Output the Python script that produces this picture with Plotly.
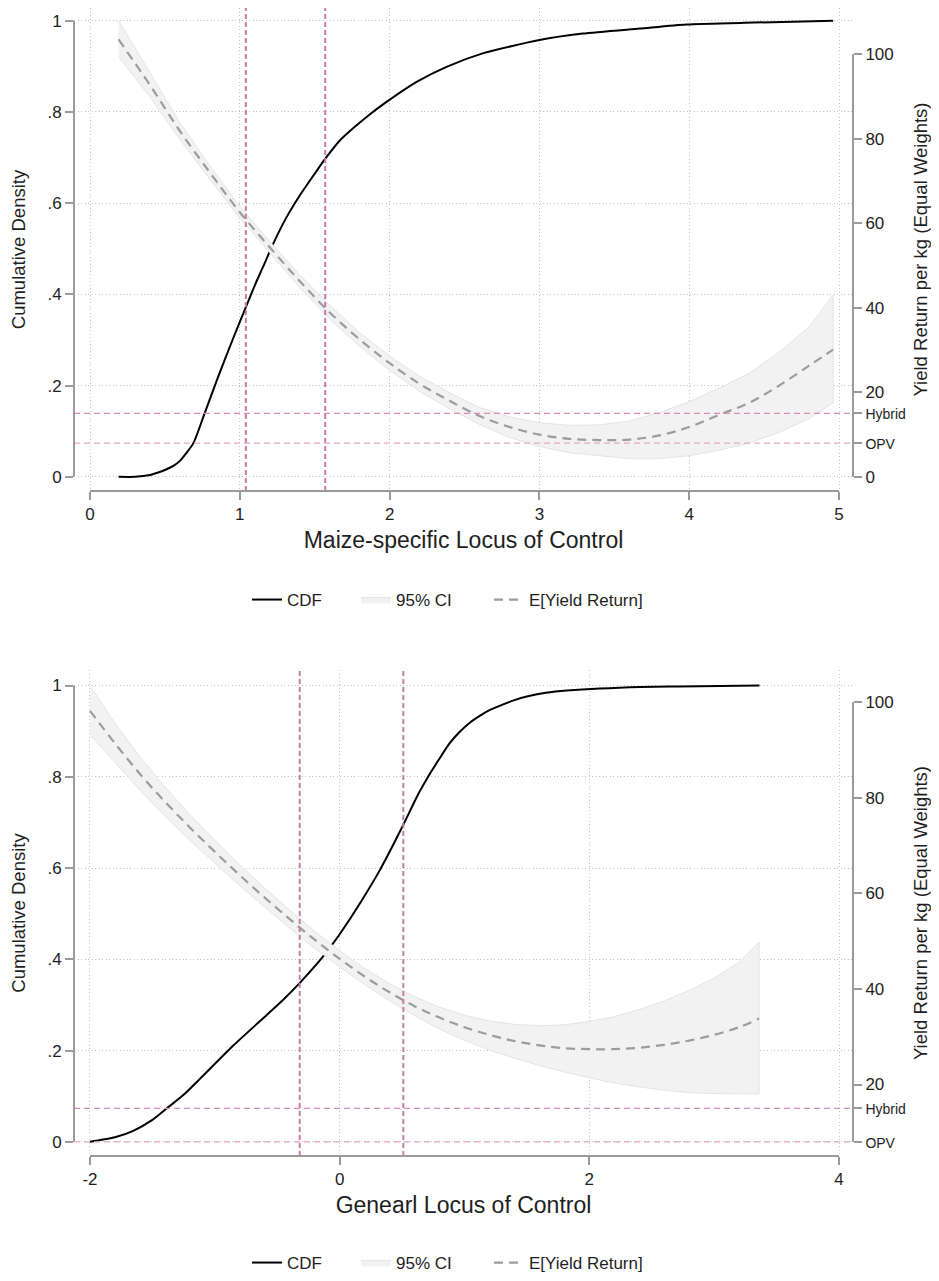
import plotly.graph_objects as go
from plotly.subplots import make_subplots

# ---------------- Top panel: Maize-specific Locus of Control ----------------
top_cdf_x = [0.19, 0.30, 0.40, 0.45, 0.50, 0.556, 0.60, 0.69, 0.76, 0.85, 0.957, 1.035,
             1.10, 1.157, 1.224, 1.313, 1.40, 1.513, 1.569, 1.669, 1.869, 1.996, 2.18,
             2.38, 2.626, 3.0, 3.29, 3.67, 3.98, 4.43, 4.96]
top_cdf_y = [0.0, 0.0, 0.004, 0.009, 0.015, 0.024, 0.035, 0.074, 0.135, 0.215, 0.305, 0.368,
             0.42, 0.462, 0.512, 0.570, 0.617, 0.671, 0.697, 0.738, 0.795, 0.826, 0.866,
             0.899, 0.929, 0.958, 0.972, 0.983, 0.992, 0.996, 1.0]

top_ey_x = [0.19, 0.4, 0.6, 0.8, 1.0, 1.2, 1.4, 1.6, 1.8, 2.0, 2.2, 2.4, 2.6, 2.8, 3.0,
            3.2, 3.4, 3.6, 3.8, 4.0, 4.2, 4.4, 4.6, 4.8, 4.96]
top_ey = [103.5, 92.7, 81.8, 72.0, 62.6, 54.3, 46.3, 38.9, 32.5, 26.9, 22.0, 18.0, 14.4,
          11.8, 10.0, 9.0, 8.7, 8.8, 9.8, 11.8, 14.7, 17.5, 21.6, 26.3, 30.1]
top_ci_hi = [108.0, 95.5, 83.8, 73.6, 64.0, 55.7, 47.8, 40.6, 34.1, 28.6, 23.8, 19.9, 16.4,
             14.2, 12.8, 12.2, 12.3, 13.2, 15.2, 17.8, 21.0, 24.5, 29.5, 35.5, 43.1]
top_ci_lo = [99.4, 89.9, 79.8, 70.4, 61.2, 52.9, 44.8, 37.3, 30.9, 25.2, 20.2, 16.1, 12.4,
             9.3, 7.2, 5.7, 5.0, 4.3, 4.3, 5.0, 6.3, 8.0, 10.5, 13.8, 17.5]
top_vlines = [1.04, 1.57]
top_xticks = [0, 1, 2, 3, 4, 5]
top_right_ticks = [0, 20, 40, 60, 80, 100]

# ---------------- Bottom panel: General Locus of Control ----------------
bot_cdf_x = [-2.0, -1.8, -1.653, -1.5, -1.386, -1.25, -1.119, -0.852, -0.584, -0.45,
             -0.317, -0.157, -0.077, 0.0, 0.163, 0.323, 0.505, 0.62, 0.724, 0.80, 0.88,
             0.96, 1.04, 1.125, 1.2, 1.285, 1.4, 1.499, 1.65, 1.82, 2.41, 2.72, 3.363]
bot_cdf_y = [0.0, 0.01, 0.024, 0.048, 0.073, 0.103, 0.138, 0.211, 0.278, 0.312,
             0.349, 0.398, 0.426, 0.455, 0.523, 0.596, 0.692, 0.757, 0.807, 0.84, 0.873,
             0.898, 0.918, 0.934, 0.946, 0.956, 0.968, 0.976, 0.984, 0.989, 0.997, 0.998,
             1.0]

bot_ey_x = [-2.0, -1.8, -1.6, -1.4, -1.2, -1.0, -0.8, -0.6, -0.4, -0.2, 0.0, 0.2, 0.4,
            0.6, 0.8, 1.0, 1.2, 1.4, 1.6, 1.8, 2.0, 2.2, 2.4, 2.6, 2.8, 3.0, 3.2, 3.36]
bot_ey = [98.2, 91.4, 85.0, 79.2, 73.8, 68.7, 63.8, 59.1, 54.6, 50.3, 46.3, 42.6, 39.3,
          36.4, 34.0, 32.0, 30.4, 29.1, 28.2, 27.6, 27.4, 27.4, 27.7, 28.3, 29.2, 30.4,
          32.0, 33.8]
bot_ci_hi = [103.5, 95.6, 88.6, 82.3, 76.5, 71.1, 66.0, 61.1, 56.5, 52.1, 48.0, 44.3, 41.1,
             38.4, 36.2, 34.5, 33.3, 32.6, 32.3, 32.5, 33.2, 34.2, 35.7, 37.5, 39.7, 42.3,
             45.6, 49.8]
bot_ci_lo = [93.2, 87.4, 81.6, 76.2, 71.1, 66.3, 61.6, 57.1, 52.7, 48.5, 44.6, 40.9, 37.5,
             34.4, 31.6, 29.2, 27.2, 25.5, 24.0, 22.6, 21.4, 20.3, 19.5, 18.8, 18.3, 18.1,
             18.0, 18.0]
bot_vlines = [-0.32, 0.51]
bot_xticks = [-2, 0, 2, 4]
bot_xticktext = ["-2", "0", "2", "4"]
bot_right_ticks = [20, 40, 60, 80, 100]

# ---------------- Shared ----------------
left_ticks = [0, 0.2, 0.4, 0.6, 0.8, 1]
left_ticktext = ["0", ".2", ".4", ".6", ".8", "1"]
threshold_names = ["Hybrid", "OPV"]
threshold_vals = [15, 8]
legend_names = ["CDF", "95% CI", "E[Yield Return]"]

FONT = "Liberation Sans, Arial, sans-serif"
TXT = "#1e1e1e"
AXC = "#9a9a9a"
GRID = "#c2c2c2"
PINK = "#CC79A7"
HL_COLORS = ["#DA8DBA", "#E2A9CA"]

# page body has an 8px default margin -> figure is 8px smaller than the window
W, H = 931, 1273

fig = make_subplots(rows=2, cols=1,
                    specs=[[{"secondary_y": True}], [{"secondary_y": True}]])

panels = [
    dict(row=1, cdf_x=top_cdf_x, cdf_y=top_cdf_y, ey_x=top_ey_x, ey=top_ey,
         hi=top_ci_hi, lo=top_ci_lo, vl=top_vlines, legs=["legend", "legend2", "legend3"]),
    dict(row=2, cdf_x=bot_cdf_x, cdf_y=bot_cdf_y, ey_x=bot_ey_x, ey=bot_ey,
         hi=bot_ci_hi, lo=bot_ci_lo, vl=bot_vlines, legs=["legend4", "legend5", "legend6"]),
]

for p in panels:
    r = p["row"]
    fig.add_trace(go.Scatter(
        x=p["ey_x"] + p["ey_x"][::-1], y=p["hi"] + p["lo"][::-1],
        fill="toself", fillcolor="#f2f2f2", mode="lines",
        line=dict(color="#dedede", width=0.8), name=legend_names[1],
        legend=p["legs"][1], hoverinfo="skip"),
        row=r, col=1, secondary_y=True)
    fig.add_trace(go.Scatter(
        x=p["ey_x"], y=p["ey"], mode="lines",
        line=dict(color="#9c9c9c", width=2.2, dash="9px,6px", shape="spline"),
        name=legend_names[2], legend=p["legs"][2]),
        row=r, col=1, secondary_y=True)
    fig.add_trace(go.Scatter(
        x=p["cdf_x"], y=p["cdf_y"], mode="lines",
        line=dict(color="black", width=2, shape="spline", smoothing=0.6),
        name=legend_names[0], legend=p["legs"][0]),
        row=r, col=1, secondary_y=False)
    for v in p["vl"]:
        fig.add_vline(x=v, line=dict(color=PINK, width=2, dash="5px,3px"), row=r, col=1)
    for val, c in zip(threshold_vals, HL_COLORS):
        fig.add_hline(y=val, line=dict(color=c, width=1.2, dash="6px,4px"),
                      row=r, col=1, secondary_y=True)

top_x_range = [-0.107, 5.093]
bot_x_range = [-2.128, 4.112]
top_left_range = [-0.031, 1.028]
bot_left_range = [-0.031, 1.034]
top_right_range = [v * 107.9 for v in top_left_range]
bot_right_range = [8 + v * 95.5 for v in bot_left_range]

tick_font = dict(family=FONT, size=17, color=TXT)
small = lambda s: "<span style='font-size:14px'>%s</span>" % s
title_font = dict(family=FONT, size=18.5, color=TXT)
xtitle_font = dict(family=FONT, size=23, color=TXT)

common_x = dict(showline=False, zeroline=False, ticks="outside", ticklen=8,
                tickwidth=1.5, tickcolor=AXC, showgrid=True, gridcolor=GRID,
                griddash="1px,2.5px", gridwidth=1, tickfont=tick_font, automargin=False)
common_y = dict(showline=False, zeroline=False, ticks="outside", ticklen=8,
                tickwidth=1.5, tickcolor=AXC, tickfont=tick_font, automargin=False)

fig.update_layout(
    xaxis=dict(domain=[0, 1], range=top_x_range, tickvals=top_xticks,
               title=dict(text="Maize-specific Locus of Control", font=xtitle_font,
                          standoff=8), **common_x),
    xaxis2=dict(domain=[0, 1], range=bot_x_range, tickvals=bot_xticks,
                ticktext=bot_xticktext,
                title=dict(text="Genearl Locus of Control", font=xtitle_font,
                           standoff=8), **common_x),
    yaxis=dict(domain=[1 - 483 / H, 1.0], range=top_left_range, tickvals=left_ticks,
               ticktext=left_ticktext, showgrid=True, gridcolor=GRID,
               griddash="1px,2.5px",
               title=dict(text="Cumulative Density", font=title_font, standoff=18),
               **common_y),
    yaxis2=dict(range=top_right_range, showgrid=False,
                tickvals=top_right_ticks + threshold_vals,
                ticktext=[str(t) for t in top_right_ticks] + [small(n) for n in threshold_names],
                title=dict(text="Yield Return per kg (Equal Weights)", font=title_font,
                           standoff=9), **common_y),
    yaxis3=dict(domain=[1 - 1148 / H, 1 - 662 / H], range=bot_left_range,
                tickvals=left_ticks, ticktext=left_ticktext, showgrid=True,
                gridcolor=GRID, griddash="1px,2.5px",
                title=dict(text="Cumulative Density", font=title_font, standoff=18),
                **common_y),
    yaxis4=dict(range=bot_right_range, showgrid=False,
                tickvals=bot_right_ticks + threshold_vals,
                ticktext=[str(t) for t in bot_right_ticks] + [small(n) for n in threshold_names],
                title=dict(text="Yield Return per kg (Equal Weights)", font=title_font,
                           standoff=9), **common_y),
)

axc = dict(color=AXC, width=2)
fig.add_shape(type="line", xref="x domain", yref="y", x0=0, x1=0,
              y0=min(left_ticks), y1=max(left_ticks), line=axc)
fig.add_shape(type="line", xref="x domain", yref="y2", x0=1, x1=1,
              y0=min(top_right_ticks), y1=max(top_right_ticks), line=axc)
fig.add_shape(type="line", xref="x", yref="y domain", x0=min(top_xticks),
              x1=max(top_xticks), y0=0, y1=0, line=axc)
fig.add_shape(type="line", xref="x2 domain", yref="y3", x0=0, x1=0,
              y0=min(left_ticks), y1=max(left_ticks), line=axc)
fig.add_shape(type="line", xref="x2 domain", yref="y4", x0=1, x1=1,
              y0=min(threshold_vals), y1=max(bot_right_ticks), line=axc)
fig.add_shape(type="line", xref="x2", yref="y3 domain", x0=min(bot_xticks),
              x1=max(bot_xticks), y0=0, y1=0, line=axc)

# one legend per entry so each key sits where the reference has it
leg = dict(orientation="h", xanchor="left", yanchor="middle",
           font=dict(family=FONT, size=17, color=TXT), bgcolor="rgba(0,0,0,0)",
           itemwidth=30)
leg_x = [0.2221, 0.362, 0.5327]
top_leg_y = 1 - 592 / H
bot_leg_y = 1 - 1255 / H
legend_layout = {}
for i, lx in enumerate(leg_x):
    legend_layout["legend" if i == 0 else "legend%d" % (i + 1)] = dict(x=lx, y=top_leg_y, **leg)
    legend_layout["legend%d" % (i + 4)] = dict(x=lx, y=bot_leg_y, **leg)
fig.update_layout(**legend_layout)

fig.update_layout(
    width=W, height=H,
    margin=dict(l=66, r=86, t=0, b=0),
    paper_bgcolor="white", plot_bgcolor="white",
    font=dict(family=FONT, color=TXT),
    showlegend=True,
)

fig.write_html("out.html")
